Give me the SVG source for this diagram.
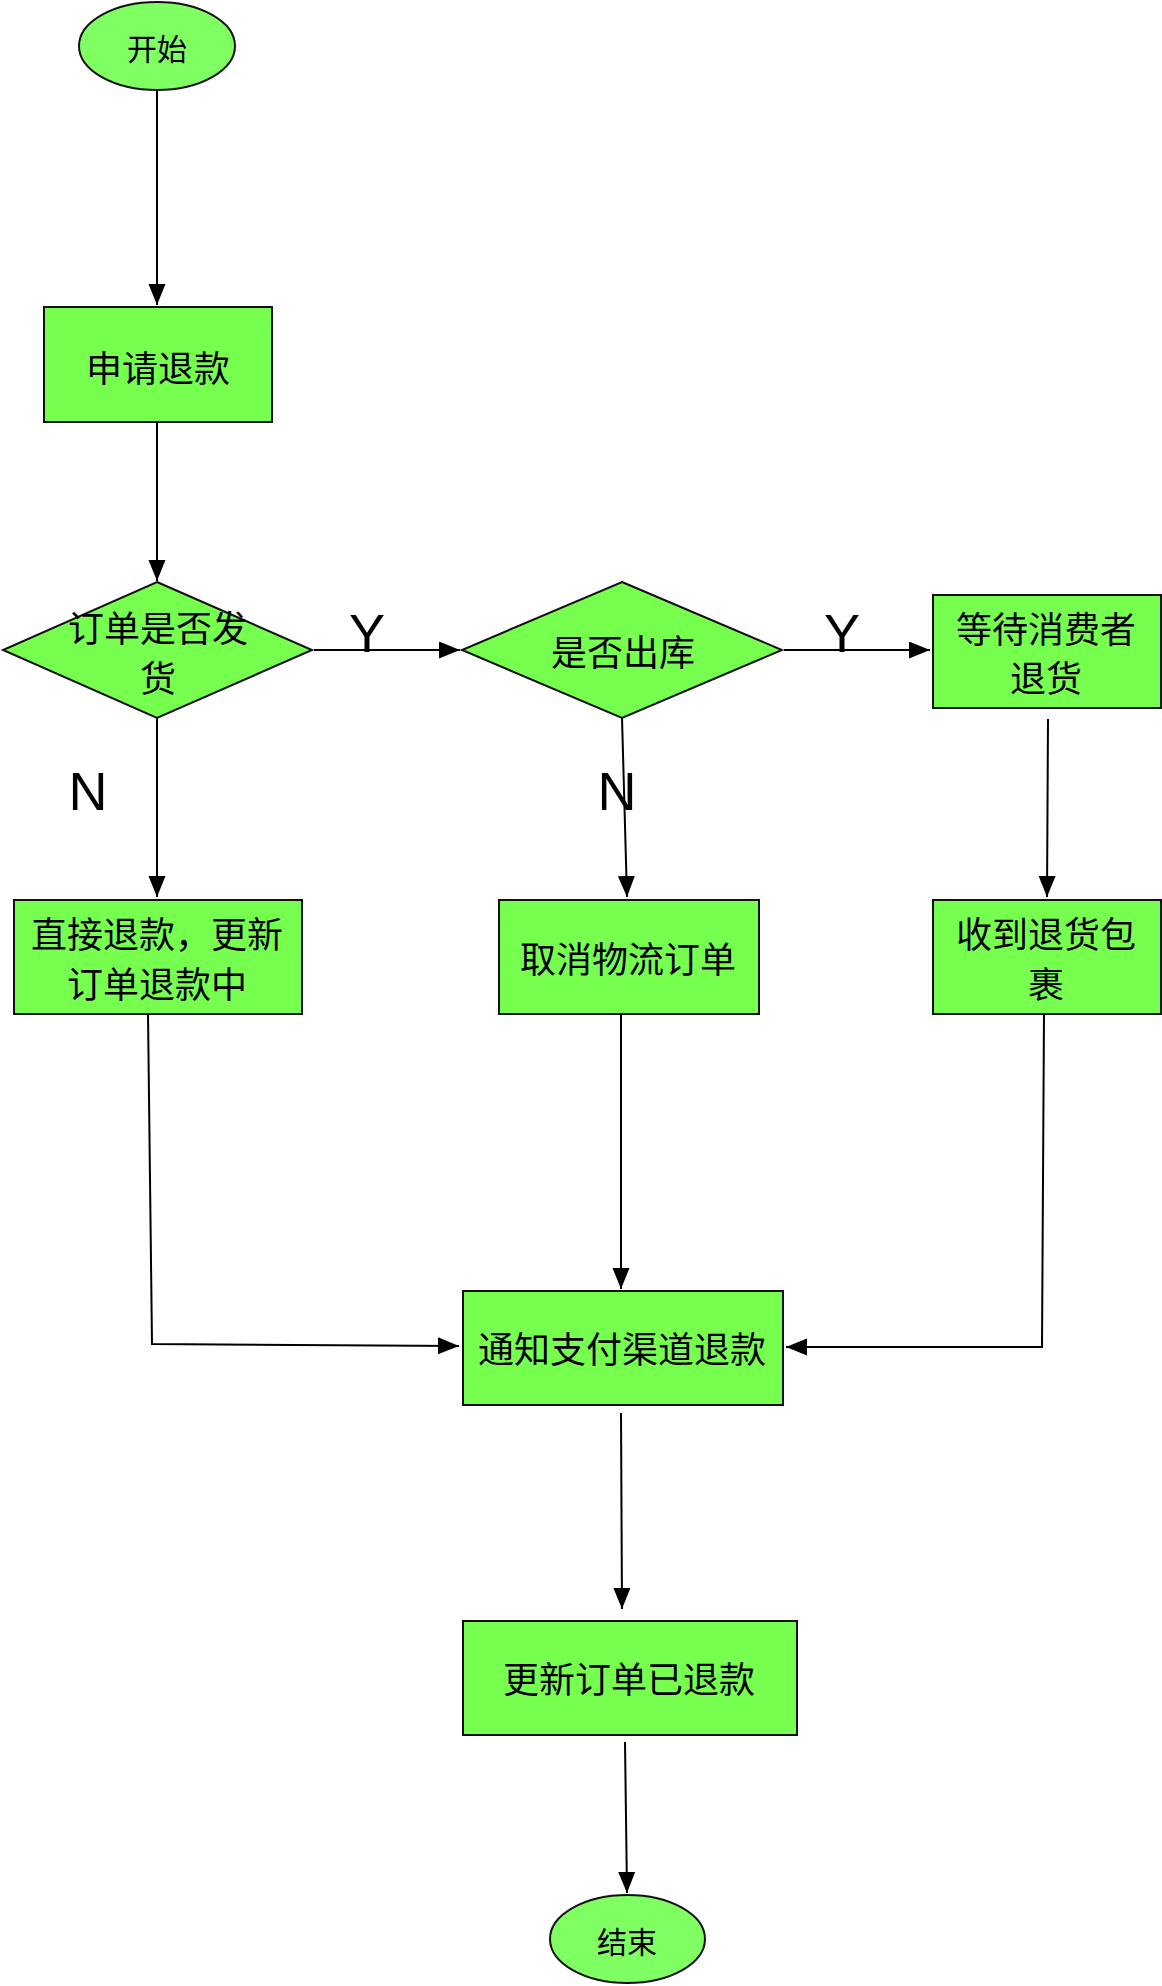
<svg xmlns="http://www.w3.org/2000/svg" width="1162" height="1986" viewBox="0 0 1162 1986">
<defs>
<marker id="arr" markerUnits="userSpaceOnUse" markerWidth="22" markerHeight="18" refX="21" refY="8.5" orient="auto">
<path d="M0,0 L21,8.5 L0,17 z" fill="#000"/>
</marker>
<style>
.box{fill:#77ff50;stroke:#111;stroke-width:2}
.oval{fill:#80ff62;stroke:#111;stroke-width:2}
.t{font-family:"Noto Sans CJK SC","Noto Sans",sans-serif;font-size:36px;fill:#000;text-anchor:middle;dominant-baseline:central}
.ts{font-size:30px}
.lab{font-family:"Liberation Sans",Arial,sans-serif;font-size:54px;fill:#000;text-anchor:middle}
.c{fill:none;stroke:#000;stroke-width:2}
</style>
</defs>
<rect width="1162" height="1986" fill="#fff"/>
<g id="connectors">
<path class="c" d="M157,91 L157,305" marker-end="url(#arr)"/>
<path class="c" d="M157,422 L157,581" marker-end="url(#arr)"/>
<path class="c" d="M314,650 L460,650" marker-end="url(#arr)"/>
<path class="c" d="M784,650 L930,650" marker-end="url(#arr)"/>
<path class="c" d="M157,718 L157,897" marker-end="url(#arr)"/>
<path class="c" d="M622,718 L627,897" marker-end="url(#arr)"/>
<path class="c" d="M1048,719 L1047,897" marker-end="url(#arr)"/>
<path class="c" d="M148,1014 L152,1344 L459,1346" marker-end="url(#arr)"/>
<path class="c" d="M621,1014 L621,1289" marker-end="url(#arr)"/>
<path class="c" d="M1044,1014 L1042,1347 L786,1347" marker-end="url(#arr)"/>
<path class="c" d="M621,1413 L622,1609" marker-end="url(#arr)"/>
<path class="c" d="M625,1742 L627,1893" marker-end="url(#arr)"/>
<text class="lab" x="367" y="652">Y</text>
<text class="lab" x="842" y="652">Y</text>
<text class="lab" x="88" y="810">N</text>
<text class="lab" x="617" y="810">N</text>
</g>
<g id="start">
<ellipse class="oval" cx="157" cy="46" rx="78" ry="44"/>
<text class="t ts" x="157" y="47">开始</text>
</g>
<g id="apply">
<rect class="box" x="44" y="307" width="228" height="115"/>
<text class="t" x="158" y="366">申请退款</text>
</g>
<g id="shipped">
<polygon class="box" points="157,582 312,650 157,718 3,650"/>
<text class="t" x="158" y="626">订单是否发</text>
<text class="t" x="158" y="676">货</text>
</g>
<g id="outstock">
<polygon class="box" points="622,582 782,650 622,718 462,650"/>
<text class="t" x="623" y="650">是否出库</text>
</g>
<g id="wait">
<rect class="box" x="933" y="595" width="228" height="113"/>
<text class="t" x="1046" y="627">等待消费者</text>
<text class="t" x="1046" y="676">退货</text>
</g>
<g id="direct">
<rect class="box" x="14" y="900" width="288" height="114"/>
<text class="t" x="157" y="932">直接退款，更新</text>
<text class="t" x="157" y="982">订单退款中</text>
</g>
<g id="cancel">
<rect class="box" x="499" y="900" width="260" height="114"/>
<text class="t" x="628" y="957">取消物流订单</text>
</g>
<g id="received">
<rect class="box" x="933" y="900" width="228" height="114"/>
<text class="t" x="1046" y="932">收到退货包</text>
<text class="t" x="1046" y="982">裹</text>
</g>
<g id="notify">
<rect class="box" x="463" y="1291" width="320" height="114"/>
<text class="t" x="622" y="1347">通知支付渠道退款</text>
</g>
<g id="update">
<rect class="box" x="463" y="1621" width="334" height="114"/>
<text class="t" x="629" y="1677">更新订单已退款</text>
</g>
<g id="end">
<ellipse class="oval" cx="627.5" cy="1939" rx="77.5" ry="44"/>
<text class="t ts" x="627" y="1940">结束</text>
</g>
</svg>
